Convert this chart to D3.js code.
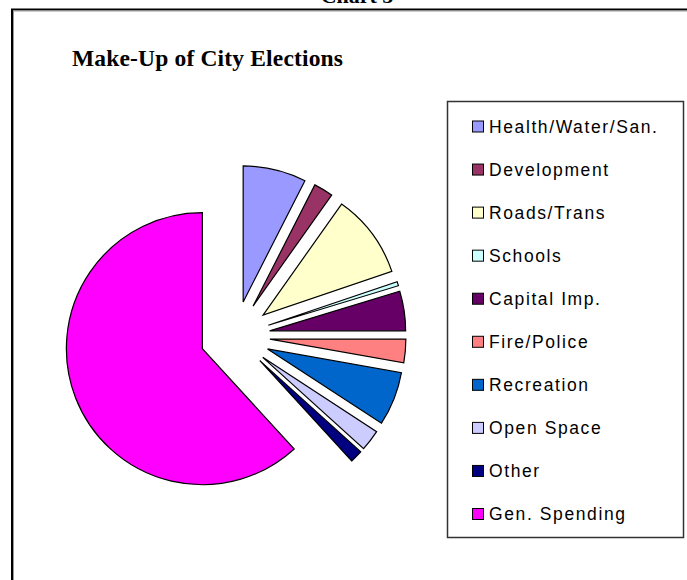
<!DOCTYPE html>
<html>
<head>
<meta charset="utf-8">
<script src="https://cdn.jsdelivr.net/npm/d3@7"></script>
<style>
  html, body { margin: 0; padding: 0; background: #fff; overflow: hidden; }
  svg { display: block; }
</style>
</head>
<body>
<svg id="chart" width="687" height="580"></svg>
<script>
// Spending categories and their share of city elections (percent)
const categories = [
  "Health/Water/San.", "Development", "Roads/Trans", "Schools", "Capital Imp.",
  "Fire/Police", "Recreation", "Open Space", "Other", "Gen. Spending"
];
const shares = [7.5, 2.3, 10.0, 0.5, 4.7, 2.8, 6.4, 2.5, 1.5, 61.8];
const palette = [
  "#9999FF", "#993366", "#FFFFCC", "#CCFFFF", "#660066",
  "#FF8080", "#0066CC", "#CCCCFF", "#000080", "#FF00FF"
];
const chartCaption = "Chart 5";
const chartTitle = "Make-Up of City Elections";

const svg = d3.select("#chart");

// caption above the frame (runs off the top edge of the page)
svg.append("text")
  .attr("x", 357).attr("y", 3)
  .attr("text-anchor", "middle")
  .attr("font-family", "'Liberation Serif', 'Times New Roman', serif")
  .attr("font-weight", "bold")
  .attr("font-size", 22)
  .text(chartCaption);

// chart frame
svg.append("rect")
  .attr("x", 12).attr("y", 9.5)
  .attr("width", 720).attr("height", 620)
  .attr("fill", "none").attr("stroke", "#000").attr("stroke-width", 2);
svg.append("rect")
  .attr("x", 13.5).attr("y", 11)
  .attr("width", 720).attr("height", 620)
  .attr("fill", "none").attr("stroke", "#999").attr("stroke-width", 1);

// title
svg.append("text")
  .attr("x", 72).attr("y", 66)
  .attr("font-family", "'Liberation Serif', 'Times New Roman', serif")
  .attr("font-weight", "bold")
  .attr("font-size", 23.5)
  .attr("textLength", 271)
  .attr("lengthAdjust", "spacing")
  .text(chartTitle);

// exploded pie
const cx = 235, cy = 336, radius = 136, explode = 35;
const color = d3.scaleOrdinal().domain(categories).range(palette);
const pie = d3.pie().sort(null).value(d => d.value).startAngle(0).endAngle(2 * Math.PI);
const arc = d3.arc().innerRadius(0).outerRadius(radius);
const data = categories.map((c, i) => ({ name: c, value: shares[i] }));

svg.append("g")
  .attr("transform", `translate(${cx},${cy})`)
  .selectAll("path")
  .data(pie(data))
  .join("path")
  .attr("transform", d => {
    const mid = (d.startAngle + d.endAngle) / 2;
    return `translate(${Math.sin(mid) * explode},${-Math.cos(mid) * explode})`;
  })
  .attr("d", arc)
  .attr("fill", d => color(d.data.name))
  .attr("stroke", "#000")
  .attr("stroke-width", 1.2)
  .attr("stroke-linejoin", "miter");

// legend
const legend = svg.append("g");
legend.append("rect")
  .attr("x", 447.5).attr("y", 101.5)
  .attr("width", 236).attr("height", 436)
  .attr("fill", "#fff").attr("stroke", "#333").attr("stroke-width", 1.5);

const rowY = d3.scalePoint().domain(categories).range([126.5, 514]);
const rows = legend.selectAll("g.item")
  .data(categories)
  .join("g")
  .attr("class", "item")
  .attr("transform", d => `translate(0,${rowY(d)})`);
rows.append("rect")
  .attr("x", 472.5).attr("y", -5.5)
  .attr("width", 11).attr("height", 11)
  .attr("fill", d => color(d))
  .attr("stroke", "#000").attr("stroke-width", 1);
rows.append("text")
  .attr("x", 489).attr("y", 6)
  .attr("font-family", "'Liberation Sans', Arial, sans-serif")
  .attr("font-size", 17.5)
  .attr("letter-spacing", 1.6)
  .attr("fill", "#000")
  .text(d => d);
</script>
</body>
</html>
